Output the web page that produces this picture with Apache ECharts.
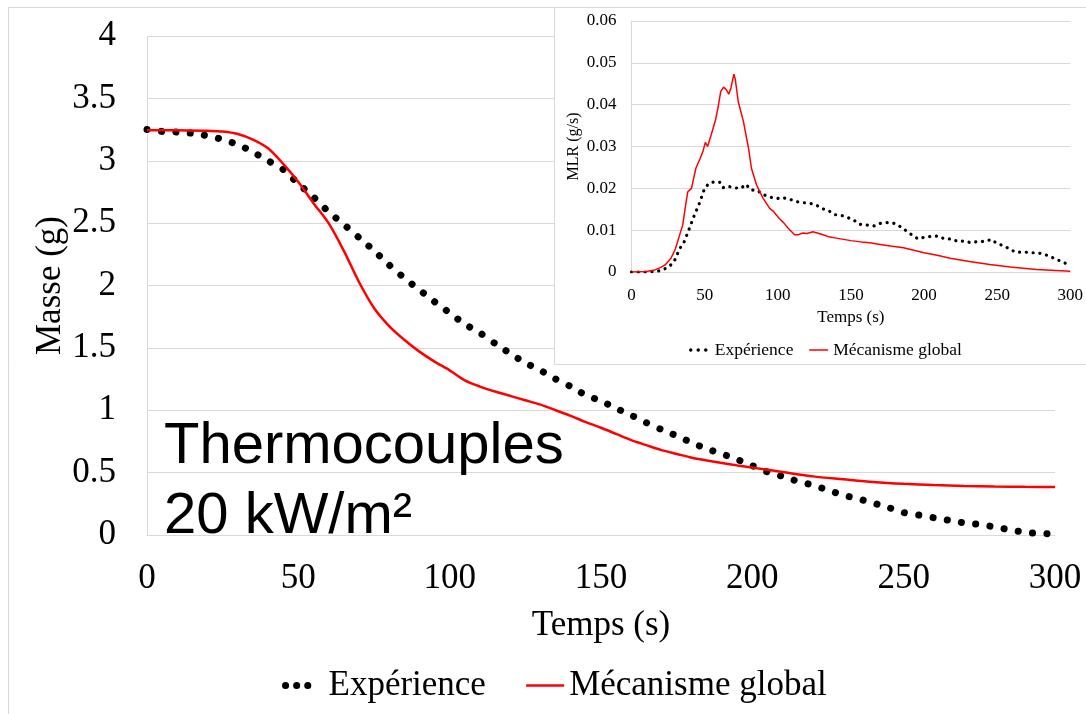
<!DOCTYPE html>
<html><head><meta charset="utf-8">
<script src="https://cdn.jsdelivr.net/npm/echarts@6/dist/echarts.min.js"></script>
<style>html,body{margin:0;padding:0;background:#fff}#c{width:1086px;height:714px}</style>
</head><body><div id="c"></div>
<script>
// ---- Main chart: mass (g) vs time (s)
const massExpT = [0,5,10,15,20,25,30,35,40,45,50,55,60,65,70,75,80,85,90,95,100,105,110,115,120,125,130,135,140,145,150,155,160,165,170,175,180,185,190,195,200,205,210,215,220,225,230,235,240,245,250,255,260,265,270,275,280,285,290,295,298];
const massExpV = [3.25,3.235,3.23,3.22,3.20,3.17,3.13,3.07,3.00,2.93,2.815,2.71,2.59,2.49,2.385,2.28,2.165,2.06,1.965,1.87,1.78,1.69,1.62,1.535,1.455,1.38,1.32,1.25,1.19,1.12,1.075,1.015,0.96,0.90,0.845,0.795,0.74,0.69,0.65,0.605,0.555,0.505,0.47,0.43,0.40,0.36,0.32,0.29,0.255,0.22,0.18,0.16,0.138,0.118,0.097,0.085,0.065,0.042,0.022,0.013,0.01];
const massModT = [0,10,20,25,30,35,40,45,50,55,60,65,70,75,80,85,90,95,100,105,110,115,120,125,130,135,140,145,150,155,160,165,170,175,180,185,190,195,200,210,220,230,240,250,260,270,280,290,300];
const massModV = [3.245,3.245,3.24,3.235,3.215,3.17,3.10,2.975,2.83,2.66,2.50,2.28,2.03,1.82,1.675,1.565,1.47,1.39,1.32,1.24,1.19,1.15,1.115,1.08,1.045,1.00,0.955,0.905,0.86,0.81,0.76,0.72,0.68,0.65,0.62,0.598,0.578,0.558,0.54,0.505,0.47,0.447,0.425,0.41,0.40,0.393,0.389,0.386,0.385];

// ---- Inset: MLR (g/s) vs time (s)
const mlrExpT = [0,10,18,22,26,29,31,33,36,38,40,43,46,48,50,53,57,61,63,67,71,75,78,82,86,90,94,99,103,108,113,117,122,126,130,135,139,143,148,152,156,161,166,170,175,180,184,188,192,196,200,205,210,214,219,223,228,232,237,242,246,250,255,259,263,268,273,277,282,286,291,295,300];
const mlrExpV = [0,0,0.0002,0.0006,0.0014,0.0024,0.004,0.0056,0.0072,0.009,0.0108,0.0136,0.016,0.018,0.020,0.0212,0.0216,0.0214,0.0201,0.0204,0.0201,0.020,0.021,0.0196,0.0195,0.0185,0.018,0.0175,0.0178,0.0174,0.0168,0.0166,0.0164,0.0161,0.0152,0.0146,0.0137,0.0136,0.013,0.0124,0.0114,0.0112,0.011,0.0116,0.0118,0.0116,0.0108,0.0098,0.0088,0.0079,0.0083,0.0085,0.0086,0.0079,0.0079,0.0073,0.0074,0.007,0.0073,0.0073,0.0078,0.0068,0.0062,0.0054,0.0047,0.0048,0.0046,0.0046,0.0043,0.0037,0.003,0.0023,0.0017];
const mlrModT = [0,10,16,20,23,27,30,32,35,37,38.5,41,44,47,49,50.5,52,54.5,57.5,59,61,63,65,66.5,68,70,71,73,76.5,80,82,85.5,90,94.5,97,101,104,107,111.5,114,117,120,124,127,131,135,140,145,150,157,163,170,177,186,193,200,209,218,231,245,259,277,300];
const mlrModV = [0,0.0001,0.0005,0.0011,0.0017,0.0033,0.0055,0.0078,0.0112,0.016,0.0192,0.020,0.0248,0.0272,0.029,0.031,0.030,0.0328,0.0364,0.039,0.0431,0.0442,0.0435,0.0425,0.044,0.0473,0.046,0.0407,0.036,0.0296,0.0248,0.0208,0.0176,0.0152,0.0145,0.0128,0.0118,0.0105,0.0089,0.0089,0.0093,0.0092,0.0096,0.0093,0.0089,0.0084,0.0081,0.0078,0.0075,0.0072,0.007,0.0066,0.0062,0.0058,0.0052,0.0046,0.004,0.0033,0.0025,0.0018,0.0012,0.0006,0.0002];

const seriesNames = ['Expérience', 'Mécanisme global'];
const zip = (a, b) => a.map((v, i) => [v, b[i]]);

const SERIF = 'Liberation Serif';
const GRAY = '#d9d9d9';

const chart = echarts.init(document.getElementById('c'), null, {renderer: 'canvas'});
chart.setOption({
  animation: false,
  backgroundColor: '#fff',
  textStyle: {fontFamily: SERIF, color: '#000'},
  grid: [
    {left: 147, top: 36, width: 908, height: 499},
    {left: 631.5, top: 21, width: 446.5, height: 251}
  ],
  xAxis: [
    {gridIndex: 0, type: 'value', min: 0, max: 300, interval: 50, nameMoveOverlap: false,
     axisLine: {show: true, lineStyle: {color: GRAY, width: 1}}, axisTick: {show: false}, splitLine: {show: false},
     axisLabel: {fontSize: 35, color: '#000', margin: 26, fontFamily: SERIF},
     name: 'Temps (s)', nameLocation: 'middle', nameGap: 73, nameTextStyle: {fontSize: 35, color: '#000', fontFamily: SERIF}},
    {gridIndex: 1, type: 'value', min: 0, max: 300, interval: 50, z: 6, nameMoveOverlap: false,
     axisLine: {show: true, lineStyle: {color: GRAY, width: 1}}, axisTick: {show: false}, splitLine: {show: false},
     axisLabel: {fontSize: 17, color: '#000', margin: 15, fontFamily: SERIF},
     name: 'Temps (s)', nameLocation: 'middle', nameGap: 37, nameTextStyle: {fontSize: 17, color: '#000', fontFamily: SERIF}}
  ],
  yAxis: [
    {gridIndex: 0, type: 'value', min: 0, max: 4, interval: 0.5, nameMoveOverlap: false,
     axisLine: {show: true, lineStyle: {color: GRAY, width: 1}}, axisTick: {show: false},
     splitLine: {show: true, lineStyle: {color: GRAY, width: 1}},
     axisLabel: {fontSize: 35, color: '#000', margin: 31, fontFamily: SERIF},
     name: 'Masse (g)', nameLocation: 'middle', nameGap: 79, nameTextStyle: {fontSize: 35, color: '#000', fontFamily: SERIF}},
    {gridIndex: 1, type: 'value', min: 0, max: 0.06, interval: 0.01, z: 6, nameMoveOverlap: false,
     axisLine: {show: true, lineStyle: {color: GRAY, width: 1}}, axisTick: {show: false},
     splitLine: {show: true, lineStyle: {color: GRAY, width: 1}},
     axisLabel: {fontSize: 17, color: '#000', margin: 15, fontFamily: SERIF},
     name: 'MLR (g/s)', nameLocation: 'middle', nameGap: 50, nameTextStyle: {fontSize: 16, color: '#000', fontFamily: SERIF}}
  ],
  legend: [
    {left: 282, top: 668, padding: 0, itemWidth: 38, itemHeight: 14, itemGap: 39, selectedMode: false,
     textStyle: {fontSize: 35, color: '#000', fontFamily: SERIF},
     data: [
       {name: seriesNames[0], itemStyle: {opacity: 0}, lineStyle: {color: '#000', width: 7, type: [0.1, 11, 0.1, 11, 0.1, 40], cap: 'round'}},
       {name: seriesNames[1], itemStyle: {opacity: 0}, lineStyle: {color: '#ff0000', width: 2.5, type: 'solid'}}
     ]},
    {left: 689, top: 341, padding: 0, itemWidth: 19, itemHeight: 8, itemGap: 15, selectedMode: false, z: 8,
     textStyle: {fontSize: 17.5, color: '#000', fontFamily: SERIF},
     data: [
       {name: seriesNames[0], itemStyle: {opacity: 0}, lineStyle: {color: '#000', width: 3.4, type: [0.1, 7.4, 0.1, 7.4, 0.1, 30], cap: 'round'}},
       {name: seriesNames[1], itemStyle: {opacity: 0}, lineStyle: {color: '#ff0000', width: 1.5, type: 'solid'}}
     ]}
  ],
  graphic: [
    {type: 'rect', z: 1, silent: true, shape: {x: 8.5, y: 7.5, width: 1100, height: 720},
     style: {fill: null, stroke: GRAY, lineWidth: 1}},
    {type: 'rect', z: 5, silent: true, shape: {x: 554.5, y: 7.5, width: 540, height: 357},
     style: {fill: '#fff', stroke: GRAY, lineWidth: 1}},
    {type: 'text', z: 3, left: 164, top: 418, silent: true,
     style: {text: 'Thermocouples', font: '58px "Liberation Sans"', fill: '#000'}},
    {type: 'text', z: 3, left: 164, top: 488, silent: true,
     style: {text: '20 kW/m²', font: '58px "Liberation Sans"', fill: '#000'}}
  ],
  series: [
    {name: seriesNames[0], type: 'line', xAxisIndex: 0, yAxisIndex: 0, z: 2, symbol: 'none',
     data: zip(massExpT, massExpV), smooth: 0.2,
     lineStyle: {color: '#000', width: 7, type: [0.1, 14.3], cap: 'round'}},
    {name: seriesNames[1], type: 'line', xAxisIndex: 0, yAxisIndex: 0, z: 2, symbol: 'none',
     data: zip(massModT, massModV), smooth: 0.3,
     lineStyle: {color: '#ff0000', width: 2.5}},
    {name: seriesNames[0], type: 'line', xAxisIndex: 1, yAxisIndex: 1, z: 7, symbol: 'none',
     data: zip(mlrExpT, mlrExpV),
     lineStyle: {color: '#000', width: 3.2, type: [0.1, 6.7], cap: 'round'}},
    {name: seriesNames[1], type: 'line', xAxisIndex: 1, yAxisIndex: 1, z: 7, symbol: 'none',
     data: zip(mlrModT, mlrModV),
     lineStyle: {color: '#ff0000', width: 1.5}}
  ]
});
</script>
</body></html>
